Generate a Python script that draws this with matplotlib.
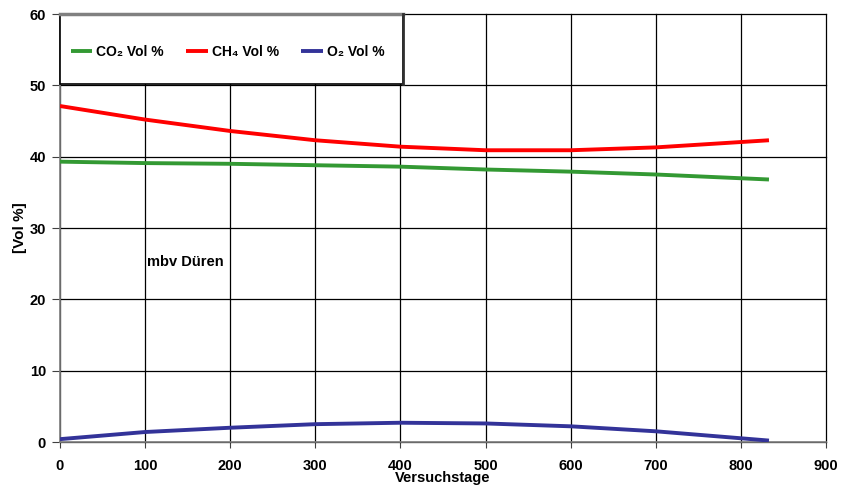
import matplotlib
matplotlib.use("Agg")
import matplotlib.pyplot as plt
from matplotlib.patches import Rectangle

plt.rcParams['font.family'] = ['Liberation Sans', 'DejaVu Sans']
plt.rcParams['font.weight'] = 'bold'

# Versuchstage und Gasanteile in Vol %
tage = [0, 100, 200, 300, 400, 500, 600, 700, 833]
co2 = [39.3, 39.1, 39.0, 38.8, 38.6, 38.2, 37.9, 37.5, 36.8]
ch4 = [47.1, 45.2, 43.6, 42.3, 41.4, 40.9, 40.9, 41.3, 42.3]
o2 = [0.4, 1.4, 2.0, 2.5, 2.7, 2.6, 2.2, 1.5, 0.2]

labels = ['CO\u2082 Vol %', 'CH\u2084 Vol %', 'O\u2082 Vol %']
farben = ['#339933', '#ff0000', '#333399']

fig = plt.figure(figsize=(8.41, 4.91), dpi=100)
ax = fig.add_axes([60 / 841, 49 / 491, 766 / 841, 428 / 491])

for y, lab, c in zip([co2, ch4, o2], labels, farben):
    ax.plot(tage, y, color=c, linewidth=2.8, label=lab, zorder=3,
            solid_capstyle='butt')

ax.set_xlim(0, 900)
ax.set_ylim(0, 60)
ax.set_xticks(range(0, 901, 100))
ax.set_yticks(range(0, 61, 10))
ax.grid(True, color='black', linewidth=0.9)
for gl in ax.get_xgridlines() + ax.get_ygridlines():
    gl.set_clip_on(False)
ax.set_axisbelow(True)

for s in ['top', 'right']:
    ax.spines[s].set_visible(False)
for s in ['left', 'bottom']:
    ax.spines[s].set_color('#808080')
    ax.spines[s].set_linewidth(1.2)

ax.tick_params(axis='x', direction='out', length=4, pad=8, labelsize=10.5,
               color='#404040')
ax.tick_params(axis='y', direction='out', length=6, pad=4, labelsize=10.5,
               color='#404040')
for t in ax.get_xticklabels() + ax.get_yticklabels():
    t.set_fontweight('bold')

ax.set_xlabel('Versuchstage', fontsize=10.5, fontweight='bold', labelpad=-1)
ax.set_ylabel('[Vol %]', fontsize=11, fontweight='bold', labelpad=2)

ax.text(102, 25.2, 'mbv Düren', fontsize=10.5, fontweight='bold',
        va='center', ha='left', zorder=4)

# Legendenkasten oben links
box = Rectangle((0, 1 - 70 / 428), 343 / 766, 70 / 428, transform=ax.transAxes,
                facecolor='white', edgecolor='black', linewidth=1.2, zorder=5,
                clip_on=False)
ax.add_patch(box)
ax.plot([0, 343 / 766], [1, 1], transform=ax.transAxes, color='#808080',
        linewidth=2.5, zorder=6, clip_on=False)
ax.plot([343 / 766, 343 / 766], [1, 1 - 70 / 428], transform=ax.transAxes,
        color='#303030', linewidth=2, zorder=6, clip_on=False)

leg = ax.legend(loc='center left', bbox_to_anchor=(5 / 766, 1 - 38 / 428),
                ncol=3, frameon=False, fontsize=10, handlelength=1.55,
                handletextpad=0.3, columnspacing=1.6, borderaxespad=0)
leg.set_zorder(7)
for t in leg.get_texts():
    t.set_fontweight('bold')

fig.savefig('out.png', dpi=100)
